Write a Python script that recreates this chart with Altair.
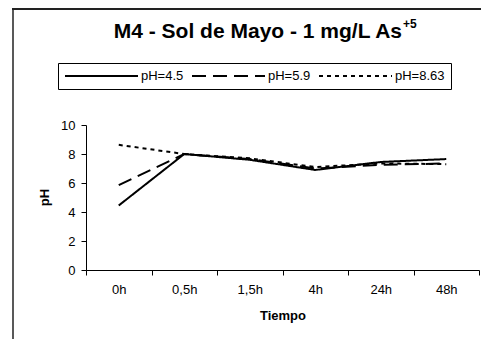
import altair as alt
import pandas as pd

tiempos = ["0h", "0,5h", "1,5h", "4h", "24h", "48h"]
series = ["pH=4.5", "pH=5.9", "pH=8.63"]
ph_45 = [4.45, 8.0, 7.6, 6.9, 7.45, 7.65]
ph_59 = [5.85, 8.0, 7.65, 7.0, 7.25, 7.35]
ph_863 = [8.63, 8.0, 7.7, 7.1, 7.35, 7.3]

rows = []
for name, vals in zip(series, [ph_45, ph_59, ph_863]):
    for t, v in zip(tiempos, vals):
        rows.append({"Tiempo": t, "pH": v, "Serie": name})
df = pd.DataFrame(rows)

FONT = "Liberation Sans"

lines = alt.Chart(df).mark_line(strokeWidth=2, color="black").encode(
    x=alt.X("Tiempo:N", sort=tiempos, bandPosition=0.5,
            scale=alt.Scale(type="band", paddingInner=0, paddingOuter=0),
            axis=alt.Axis(title="Tiempo", labelAngle=0, tickBand="extent", tickSize=5,
                          labelPadding=8, grid=False, titleY=49,
                          titleBaseline="alphabetic")),
    y=alt.Y("pH:Q", scale=alt.Scale(domain=[0, 10], nice=False),
            axis=alt.Axis(title="pH", values=[0, 2, 4, 6, 8, 10], grid=False, tickSize=5,
                          labelPadding=6, titleX=-38, titleY=72, titleAngle=-90,
                          titleAlign="center", titleBaseline="alphabetic")),
    strokeDash=alt.StrokeDash("Serie:N", sort=series,
                              scale=alt.Scale(domain=series, range=[[1, 0], [14, 7], [4, 4]]),
                              legend=alt.Legend(title=None, orient="none", legendX=-28, legendY=-62,
                                                direction="horizontal", columns=3,
                                                symbolType="stroke", symbolSize=5329,
                                                symbolStrokeWidth=2, symbolStrokeColor="black",
                                                labelFontSize=13, labelFont=FONT, labelColor="black",
                                                labelOffset=2, columnPadding=7, clipHeight=14,
                                                strokeColor="black", padding=6,
                                                cornerRadius=0)),
    detail="Serie:N",
)

one = alt.Data(values=[{}])

frame_v = alt.Chart(one).mark_rule(color="#222222", strokeWidth=1.5).encode(
    x=alt.value(-73), y=alt.value(-116), y2=alt.value(320))
frame_h = alt.Chart(one).mark_rule(color="#222222", strokeWidth=2).encode(
    x=alt.value(-74), x2=alt.value(395), y=alt.value(-116), y2=alt.value(-116))

title_main = alt.Chart(one).mark_text(
    text="M4 - Sol de Mayo - 1 mg/L As", align="right", baseline="alphabetic",
    fontSize=21, fontWeight="bold", font=FONT, color="black"
).encode(x=alt.value(316), y=alt.value(-87))
title_sup = alt.Chart(one).mark_text(
    text="+5", align="left", baseline="alphabetic",
    fontSize=12, fontWeight="bold", font=FONT, color="black"
).encode(x=alt.value(317), y=alt.value(-97))

chart = alt.layer(frame_v, frame_h, lines, title_main, title_sup).properties(
    width=393, height=145,
    padding={"left": 78, "top": 117, "right": 7, "bottom": 69},
    autosize=alt.AutoSizeParams(type="none"),
).configure_view(stroke=None).configure_axis(
    labelFont=FONT, labelFontSize=13, labelColor="black",
    titleFont=FONT, titleFontSize=13, titleFontWeight="bold", titleColor="black",
    domainColor="black", tickColor="black", domainWidth=1, tickWidth=1,
)

chart.save("out.html", embed_options={"renderer": "svg", "actions": False})
